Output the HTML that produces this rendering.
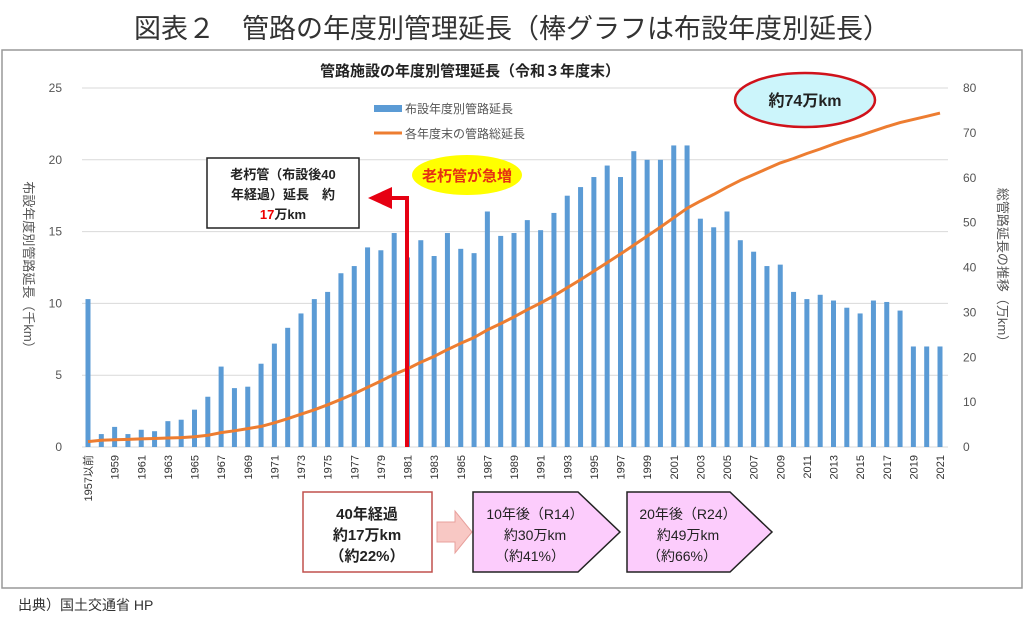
<!DOCTYPE html>
<html><head><meta charset="utf-8">
<style>
body{margin:0;background:#fff;width:1024px;height:627px;overflow:hidden;font-family:"Liberation Sans","Noto Sans CJK JP",sans-serif;}
svg text{font-family:"Liberation Sans","Noto Sans CJK JP",sans-serif;}
</style></head><body>
<svg id="chart" width="1024" height="627" viewBox="0 0 1024 627" xmlns="http://www.w3.org/2000/svg">
<text x="512" y="38" font-size="27" text-anchor="middle" fill="#333">図表２　管路の年度別管理延長（棒グラフは布設年度別延長）</text>
<rect x="2" y="50" width="1020" height="538" fill="#fff" stroke="#999" stroke-width="1.5"/>
<text x="470" y="76" font-size="15" font-weight="bold" text-anchor="middle" fill="#222">管路施設の年度別管理延長（令和３年度末）</text>
<g id="grid"></g>
<g id="bars"></g>
<g id="line"></g>
<g id="axes"></g>
<text transform="translate(24,268) rotate(90)" font-size="13" fill="#555" text-anchor="middle">布設年度別管路延長（千km）</text>
<text transform="translate(998,268) rotate(90)" font-size="13" fill="#555" text-anchor="middle">総管路延長の推移（万km）</text>
<g>
<rect x="374" y="105" width="28" height="7" fill="#5b9bd5"/>
<text x="405" y="113" font-size="12" fill="#555">布設年度別管路延長</text>
<line x1="374" y1="133" x2="402" y2="133" stroke="#ed7d31" stroke-width="3"/>
<text x="405" y="138" font-size="12" fill="#555">各年度末の管路総延長</text>
</g>
<g>
<ellipse cx="805" cy="100" rx="70" ry="27" fill="#ccf5fb" stroke="#d0121b" stroke-width="2.5"/>
<text x="805" y="106" font-size="16" font-weight="bold" text-anchor="middle" fill="#222">約74万km</text>
</g>
<g>
<ellipse cx="467" cy="175" rx="55" ry="20" fill="#ffff00"/>
<text x="467" y="181" font-size="15" font-weight="bold" text-anchor="middle" fill="#e53012">老朽管が急増</text>
</g>
<g>
<rect x="207" y="158" width="152" height="70" fill="#fff" stroke="#222" stroke-width="1.5"/>
<text x="283" y="179" font-size="13" font-weight="bold" text-anchor="middle" fill="#222">老朽管（布設後40</text>
<text x="283" y="199" font-size="13" font-weight="bold" text-anchor="middle" fill="#222">年経過）延長　約</text>
<text x="283" y="219" font-size="13" font-weight="bold" text-anchor="middle" fill="#222"><tspan fill="#e00">17</tspan>万km</text>
</g>
<g>
<polyline points="407,447 407,198 385,198" fill="none" stroke="#e60012" stroke-width="4"/>
<polygon points="368,198 392,187 392,209" fill="#e60012"/>
</g>
<g>
<rect x="303" y="492" width="129" height="80" fill="#fff" stroke="#c0504d" stroke-width="1.5"/>
<text x="367" y="519" font-size="15" font-weight="bold" text-anchor="middle" fill="#222">40年経過</text>
<text x="367" y="540" font-size="15" font-weight="bold" text-anchor="middle" fill="#222">約17万km</text>
<text x="367" y="561" font-size="15" font-weight="bold" text-anchor="middle" fill="#222">（約22%）</text>
</g>
<polygon points="437,522 455,522 455,511 472,532 455,553 455,542 437,542" fill="#f8c8c4" stroke="#e8a09c"/>
<g>
<polygon points="473,492 578,492 620,532 578,572 473,572" fill="#fcccfc" stroke="#222" stroke-width="1.5"/>
<text x="535" y="519" font-size="14" text-anchor="middle" fill="#222">10年後（R14）</text>
<text x="535" y="540" font-size="14" text-anchor="middle" fill="#222">約30万km</text>
<text x="530" y="561" font-size="14" text-anchor="middle" fill="#222">（約41%）</text>
</g>
<g>
<polygon points="627,492 730,492 772,532 730,572 627,572" fill="#fcccfc" stroke="#222" stroke-width="1.5"/>
<text x="688" y="519" font-size="14" text-anchor="middle" fill="#222">20年後（R24）</text>
<text x="688" y="540" font-size="14" text-anchor="middle" fill="#222">約49万km</text>
<text x="682" y="561" font-size="14" text-anchor="middle" fill="#222">（約66%）</text>
</g>
<text x="18" y="610" font-size="14" fill="#333">出典）国土交通省 HP</text>
</svg>
<script>
const years = [];
for (let y = 1957; y <= 2021; y++) years.push(y);
const barValues = [10.3,0.9,1.4,0.9,1.2,1.1,1.8,1.9,2.6,3.5,5.6,4.1,4.2,5.8,7.2,8.3,9.3,10.3,10.8,12.1,12.6,13.9,13.7,14.9,13.2,14.4,13.3,14.9,13.8,13.5,16.4,14.7,14.9,15.8,15.1,16.3,17.5,18.1,18.8,19.6,18.8,20.6,20.0,20.0,21.0,21.0,15.9,15.3,16.4,14.4,13.6,12.6,12.7,10.8,10.3,10.6,10.2,9.7,9.3,10.2,10.1,9.5,7.0,7.0,7.0];
const lineValues = [1.2,1.5,1.6,1.7,1.8,1.9,2.0,2.1,2.3,2.6,3.2,3.6,4.1,4.6,5.4,6.3,7.3,8.3,9.4,10.6,11.9,13.3,14.7,16.2,17.4,18.9,20.2,21.7,23.1,24.4,26.1,27.5,29.0,30.6,32.1,33.7,35.5,37.3,39.2,41.1,43.0,45.0,47.0,49.0,51.1,53.2,54.8,56.3,57.9,59.4,60.7,62.0,63.3,64.3,65.4,66.4,67.5,68.5,69.4,70.4,71.4,72.3,73.0,73.7,74.4];
const leftTicks = [0,5,10,15,20,25];
const rightTicks = [0,10,20,30,40,50,60,70,80];
const NS = "http://www.w3.org/2000/svg";
const X0 = 88, X1 = 940, Y0 = 447, Y1 = 88;
function xPos(i){ return X0 + i * (X1 - X0) / (years.length - 1); }
function yLeft(v){ return Y0 - v / 25 * (Y0 - Y1); }
function yRight(v){ return Y0 - v / 80 * (Y0 - Y1); }
function mk(tag, attrs, parent){ const e = document.createElementNS(NS, tag); for (const k in attrs) e.setAttribute(k, attrs[k]); parent.appendChild(e); return e; }
const grid = document.getElementById('grid'), bars = document.getElementById('bars'), lineG = document.getElementById('line'), axes = document.getElementById('axes');
leftTicks.forEach(t => {
  const l = mk('line', {x1:82, x2:948, y1:yLeft(t), y2:yLeft(t), stroke:'#d9d9d9', 'stroke-width':1}, grid);
  
  
  const tx = mk('text', {x:62, y:yLeft(t)+4, 'font-size':12, fill:'#555', 'text-anchor':'end'}, axes);
  tx.textContent = t;
  
  
});
rightTicks.forEach(t => {
  const tx = mk('text', {x:963, y:yRight(t)+4, 'font-size':12, fill:'#555'}, axes);
  tx.textContent = t;
  
  
});
barValues.forEach((v, i) => {
  const r = mk('rect', {x:xPos(i)-2.5, y:yLeft(v), width:5, height:Y0-yLeft(v), fill:'#5b9bd5'}, bars);
  
  
});
const pts = lineValues.map((v, i) => xPos(i).toFixed(1) + ',' + yRight(v).toFixed(1)).join(' ');
const pl = mk('polyline', {points:pts, fill:'none', stroke:'#ed7d31', 'stroke-width':3, 'stroke-linejoin':'round'}, lineG);


years.forEach((y, i) => {
  if (i % 2 !== 0) return;
  const label = i === 0 ? '1957以前' : String(y);
  const tx = mk('text', {transform:'translate(' + (xPos(i)+4) + ',455) rotate(-90)', 'font-size':11, fill:'#333', 'text-anchor':'end'}, axes);
  tx.textContent = label;
  
  
});
</script>
</body></html>
